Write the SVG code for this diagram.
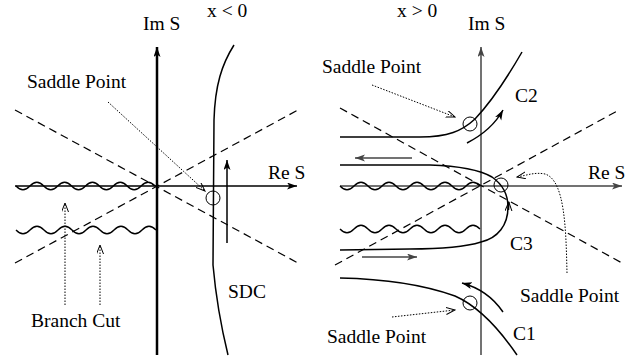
<svg xmlns="http://www.w3.org/2000/svg" width="641" height="362" viewBox="0 0 641 362">
<style>
text{font-family:"Liberation Serif","Times New Roman",serif;font-size:19.5px;fill:#000}
.ax{fill:none;stroke:#000;stroke-width:1.5}
.axg{fill:none;stroke:#444;stroke-width:1.5}
.dash{fill:none;stroke:#000;stroke-width:1.2;stroke-dasharray:8,5}
.wave{fill:none;stroke:#000;stroke-width:1.3}
.cur{fill:none;stroke:#000;stroke-width:1.5}
.dot{fill:none;stroke:#000;stroke-width:1;stroke-dasharray:1.5,1.5}
.circ{fill:none;stroke:#000;stroke-width:1}
</style>
<defs>
<marker id="ah" markerUnits="userSpaceOnUse" markerWidth="11" markerHeight="8" refX="10" refY="3.5" orient="auto">
<path d="M0,0 L10,3.5 L0,7 L2.5,3.5 z" fill="#000"/>
</marker>
<marker id="ahg" markerUnits="userSpaceOnUse" markerWidth="11" markerHeight="8" refX="10" refY="3.5" orient="auto">
<path d="M0,0 L10,3.5 L0,7 L2.5,3.5 z" fill="#444"/>
</marker>
<marker id="ahd" markerUnits="userSpaceOnUse" markerWidth="10" markerHeight="8" refX="9" refY="3.5" orient="auto">
<path d="M0,0 L9,3.5 L0,7" fill="none" stroke="#000" stroke-width="1"/>
</marker>
</defs>

<g id="left-panel">
<g id="left-axes">
<line class="ax" x1="15" y1="186" x2="297" y2="186" marker-end="url(#ah)"/>
<line x1="157" y1="355" x2="157" y2="47" stroke="#000" stroke-width="2.5" marker-end="url(#ah)"/>
</g>
<g id="left-dashed">
<line class="dash" x1="15" y1="110" x2="298" y2="263"/>
<line class="dash" x1="15" y1="263" x2="298" y2="110"/>
</g>
<g id="left-branch-cuts">
<path class="wave" d="M16,186 q6.95,7.5 13.9,0 t13.9,0 t13.9,0 t13.9,0 t13.9,0 t13.9,0 t13.9,0 t13.9,0 t13.9,0 t13.9,0"/>
<path class="wave" d="M16,230 q7,7.5 14,0 t14,0 t14,0 t14,0 t14,0 t14,0 t14,0 t14,0 t14,0 t14,0"/>
</g>
<g id="sdc">
<path class="cur" d="M234,45 C222,64 215,85 214,120 L213,265 Q217,310 228,355"/>
<circle class="circ" cx="213" cy="198" r="7"/>
</g>
<g id="left-connectors">
<line class="ax" x1="227" y1="243" x2="227" y2="160" marker-end="url(#ah)"/>
<line class="dot" x1="108" y1="102" x2="205" y2="191" marker-end="url(#ahd)"/>
<line class="dot" x1="65" y1="305" x2="65" y2="203" marker-end="url(#ahd)"/>
<line class="dot" x1="100" y1="305" x2="100" y2="245" marker-end="url(#ahd)"/>
</g>
<g id="left-labels">
<text x="143" y="30">Im S</text>
<text x="207" y="17">x &lt; 0</text>
<text x="27" y="88">Saddle Point</text>
<text x="268" y="179">Re S</text>
<text x="31" y="327">Branch Cut</text>
<text x="228" y="298">SDC</text>
</g>
</g>

<g id="right-panel">
<g id="right-axes">
<line class="axg" x1="340" y1="186" x2="622" y2="186" marker-end="url(#ahg)"/>
<line class="axg" x1="481" y1="355" x2="481" y2="47" marker-end="url(#ahg)"/>
</g>
<g id="right-dashed">
<line class="dash" x1="340" y1="108" x2="622" y2="263"/>
<line class="dash" x1="335" y1="265" x2="619" y2="110"/>
</g>
<g id="right-branch-cuts">
<path class="wave" d="M340,186 q7,7.5 14,0 t14,0 t14,0 t14,0 t14,0 t14,0 t14,0 t14,0 t14,0 t14,0"/>
<path class="wave" d="M340,229 q7,7.5 14,0 t14,0 t14,0 t14,0 t14,0 t14,0 t14,0 t14,0 t14,0 t14,0"/>
</g>
<g id="c2">
<path class="cur" d="M340,137 L420,137 C448,137 462,131 475,119 C492,101 507,78 522,52"/>
<circle class="circ" cx="470" cy="124" r="7"/>
</g>
<g id="c3">
<path class="cur" d="M340,165 L430,165 C460,166 480,170 492,177 C502,184 508,195 508,207 C508,225 498,238 481,242 C465,247 440,249 410,249 L340,250"/>
<circle class="circ" cx="501" cy="185" r="7"/>
</g>
<g id="c1">
<path class="cur" d="M340,278 C390,279 430,287 455,296 C480,307 502,333 517,355"/>
<circle class="circ" cx="470" cy="303" r="7"/>
</g>
<g id="right-connectors">
<path class="cur" d="M467,143 Q492,130 503,110" marker-end="url(#ah)"/>
<line class="axg" x1="412" y1="158" x2="355" y2="158" marker-end="url(#ahg)"/>
<line class="axg" x1="362" y1="257" x2="417" y2="257" marker-end="url(#ahg)"/>
<path class="cur" d="M503,312 Q488,290 462,283" marker-end="url(#ah)"/>
<path class="cur" d="M508.5,210 L508.8,202" marker-end="url(#ahd)"/>
<line class="dot" x1="372" y1="85" x2="455" y2="117" marker-end="url(#ahd)"/>
<line class="dot" x1="392" y1="317" x2="455" y2="310" marker-end="url(#ahd)"/>
<path class="dot" d="M567,273 C566,230 565,180 545,174 C535,172 528,175 517,177" marker-end="url(#ahd)"/>
</g>
<g id="right-labels">
<text x="397" y="17">x &gt; 0</text>
<text x="468" y="30">Im S</text>
<text x="322" y="73">Saddle Point</text>
<text x="515" y="102">C2</text>
<text x="588" y="179">Re S</text>
<text x="510" y="250">C3</text>
<text x="520" y="302">Saddle Point</text>
<text x="513" y="340">C1</text>
<text x="327" y="343">Saddle Point</text>
</g>
</g>
</svg>
